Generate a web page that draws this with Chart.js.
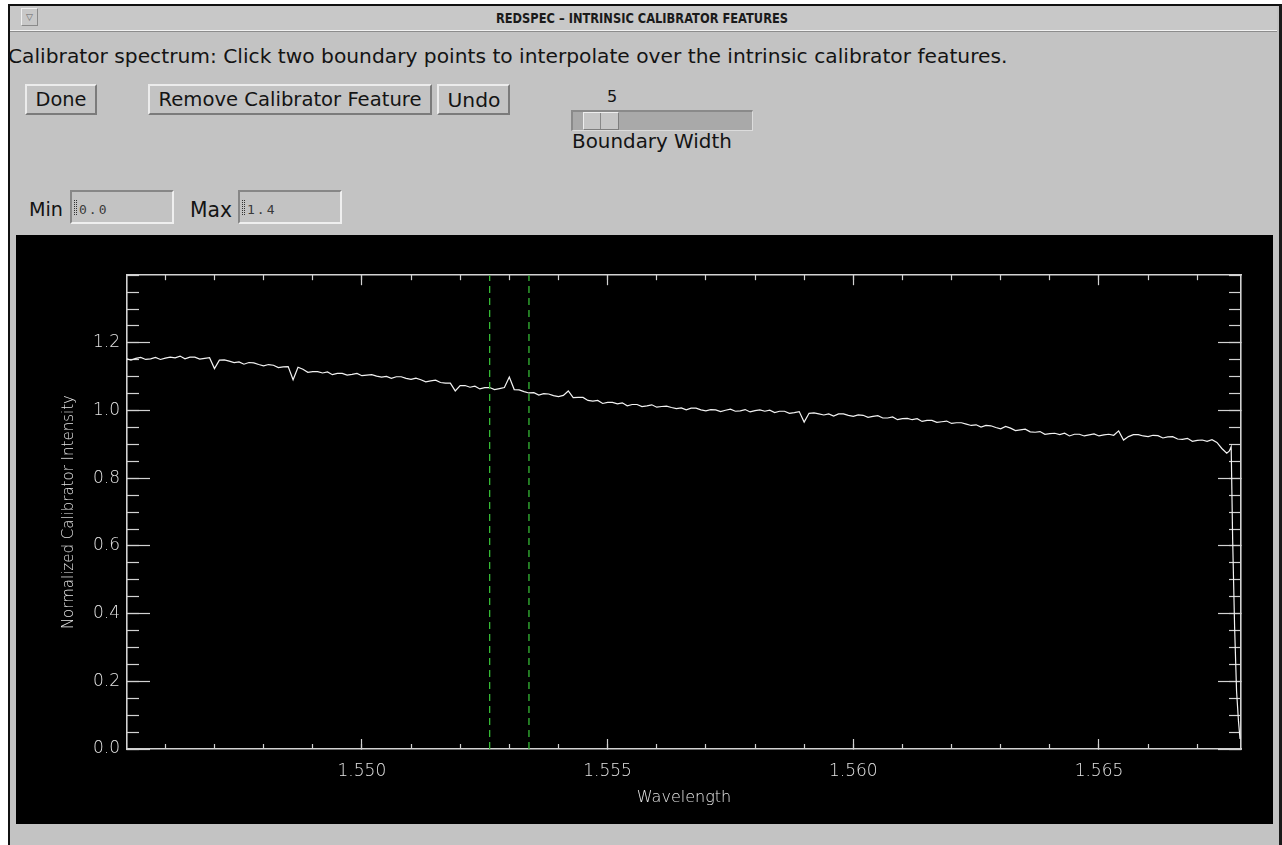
<!DOCTYPE html>
<html>
<head>
<meta charset="utf-8">
<title>REDSPEC - INTRINSIC CALIBRATOR FEATURES</title>
<script src="https://cdn.jsdelivr.net/npm/chart.js@4.4.1/dist/chart.umd.min.js"></script>
<style>
html,body{margin:0;padding:0;background:#fff;width:1282px;height:845px;overflow:hidden;}
.a{position:absolute;}
#frame{left:8px;top:4px;width:1274px;height:841px;background:#c3c3c3;border-left:2px solid #111;border-top:2px solid #111;border-right:3px solid #1a1a1a;box-sizing:border-box;}
#tbar{left:10px;top:6px;width:1267px;height:24px;background:#c8c8c8;border-bottom:1px solid #f2f2f2;box-shadow:0 1px 0 #8c8c8c;}
#icon{left:21px;top:8px;width:17px;height:18px;box-sizing:border-box;border-top:1px solid #efefef;border-left:1px solid #efefef;border-right:1px solid #8a8a8a;border-bottom:1px solid #8a8a8a;background:#c8c8c8;font:9px 'DejaVu Sans';color:#666;text-align:center;line-height:16px;}
.t{position:absolute;white-space:nowrap;line-height:1;font-family:'DejaVu Sans',sans-serif;color:#141414;}
.cv{transform:translateY(-50%);}
.cc{transform:translate(-50%,-50%);}
#title{font-family:'DejaVu Sans',sans-serif;font-weight:bold;font-size:14.5px;color:#1a1a1a;}
.btn{position:absolute;background:#c3c3c3;box-sizing:border-box;border-top:2px solid #ececec;border-left:2px solid #ececec;border-right:2px solid #7b7b7b;border-bottom:2px solid #7b7b7b;}
.field{position:absolute;background:#c3c3c3;box-sizing:border-box;border-top:2px solid #878787;border-left:2px solid #878787;border-right:2px solid #efefef;border-bottom:2px solid #efefef;}
.mono{font-family:'DejaVu Sans Mono',monospace;color:#3a3a3a;}
.caret{position:absolute;width:3px;height:15px;border-left:1px dotted #333;border-right:1px dotted #333;box-sizing:border-box;}
#trough{left:571px;top:110px;width:182px;height:21px;background:#a9a9a9;box-sizing:border-box;border-top:2px solid #8a8a8a;border-left:2px solid #8a8a8a;border-right:1px solid #dcdcdc;border-bottom:1px solid #dcdcdc;}
#thumb{left:583px;top:112px;width:36px;height:18px;background:#c6c6c6;box-sizing:border-box;border-top:1px solid #eee;border-left:1px solid #eee;border-right:1px solid #7e7e7e;border-bottom:1px solid #7e7e7e;}
#thumbline{left:600px;top:113px;width:1px;height:16px;background:#888;}
#panel{left:16px;top:235px;width:1257px;height:589px;background:#000;}
#c{display:block;}
</style>
</head>
<body>
<div id="frame" class="a"></div>
<div id="tbar" class="a"></div>
<div id="icon" class="a">&#9661;</div>
<div id="title" class="t" style="left:642px;top:18px;" data-sw="292">REDSPEC – INTRINSIC CALIBRATOR FEATURES</div>

<div class="t cv" style="left:8px;top:56px;font-size:17px;" data-w="1000">Calibrator spectrum: Click two boundary points to interpolate over the intrinsic calibrator features.</div>

<div class="btn" style="left:25px;top:84px;width:72px;height:31px;"></div>
<div class="t cc" style="left:61px;top:100px;font-size:17px;" data-w="51">Done</div>
<div class="btn" style="left:148px;top:84px;width:284px;height:31px;"></div>
<div class="t cc" style="left:290px;top:100px;font-size:17px;" data-w="263">Remove Calibrator Feature</div>
<div class="btn" style="left:437px;top:84px;width:73px;height:31px;"></div>
<div class="t cc" style="left:474px;top:100px;font-size:17px;" data-w="53">Undo</div>

<div class="t cc" style="left:612px;top:97px;font-size:16px;">5</div>
<div id="trough" class="a"></div>
<div id="thumb" class="a"></div>
<div id="thumbline" class="a"></div>
<div class="t cv" style="left:572px;top:142px;font-size:17px;" data-w="160">Boundary Width</div>

<div class="t cv" style="left:29px;top:210px;font-size:17px;" data-w="34">Min</div>
<div class="field" style="left:70px;top:190px;width:104px;height:34px;"></div>
<div class="caret" style="left:74px;top:200px;"></div>
<div class="t cv mono" style="left:79px;top:209px;font-size:13px;letter-spacing:2px;">0.0</div>
<div class="t cv" style="left:190px;top:210px;font-size:17px;" data-w="42">Max</div>
<div class="field" style="left:238px;top:190px;width:104px;height:34px;"></div>
<div class="caret" style="left:242px;top:200px;"></div>
<div class="t cv mono" style="left:247px;top:209px;font-size:13px;letter-spacing:2px;">1.4</div>

<div id="panel" class="a"><canvas id="c" width="1257" height="589"></canvas></div>

<script>
// ---------------- data ----------------
const wavelengths = [
1.5452,1.5453,1.5454,1.5455,1.5456,1.5457,1.5458,1.5459,1.5460,1.5461,
1.5462,1.5463,1.5464,1.5465,1.5466,1.5467,1.5468,1.5469,1.5470,1.5471,
1.5472,1.5473,1.5474,1.5475,1.5476,1.5477,1.5478,1.5479,1.5480,1.5481,
1.5482,1.5483,1.5484,1.5485,1.5486,1.5487,1.5488,1.5489,1.5490,1.5491,
1.5492,1.5493,1.5494,1.5495,1.5496,1.5497,1.5498,1.5499,1.5500,1.5501,
1.5502,1.5503,1.5504,1.5505,1.5506,1.5507,1.5508,1.5509,1.5510,1.5511,
1.5512,1.5513,1.5514,1.5515,1.5516,1.5517,1.5518,1.5519,1.5520,1.5521,
1.5522,1.5523,1.5524,1.5525,1.5526,1.5527,1.5528,1.5529,1.5530,1.5531,
1.5532,1.5533,1.5534,1.5535,1.5536,1.5537,1.5538,1.5539,1.5540,1.5541,
1.5542,1.5543,1.5544,1.5545,1.5546,1.5547,1.5548,1.5549,1.5550,1.5551,
1.5552,1.5553,1.5554,1.5555,1.5556,1.5557,1.5558,1.5559,1.5560,1.5561,
1.5562,1.5563,1.5564,1.5565,1.5566,1.5567,1.5568,1.5569,1.5570,1.5571,
1.5572,1.5573,1.5574,1.5575,1.5576,1.5577,1.5578,1.5579,1.5580,1.5581,
1.5582,1.5583,1.5584,1.5585,1.5586,1.5587,1.5588,1.5589,1.5590,1.5591,
1.5592,1.5593,1.5594,1.5595,1.5596,1.5597,1.5598,1.5599,1.5600,1.5601,
1.5602,1.5603,1.5604,1.5605,1.5606,1.5607,1.5608,1.5609,1.5610,1.5611,
1.5612,1.5613,1.5614,1.5615,1.5616,1.5617,1.5618,1.5619,1.5620,1.5621,
1.5622,1.5623,1.5624,1.5625,1.5626,1.5627,1.5628,1.5629,1.5630,1.5631,
1.5632,1.5633,1.5634,1.5635,1.5636,1.5637,1.5638,1.5639,1.5640,1.5641,
1.5642,1.5643,1.5644,1.5645,1.5646,1.5647,1.5648,1.5649,1.5650,1.5651,
1.5652,1.5653,1.5654,1.5655,1.5656,1.5657,1.5658,1.5659,1.5660,1.5661,
1.5662,1.5663,1.5664,1.5665,1.5666,1.5667,1.5668,1.5669,1.5670,1.5671,
1.5672,1.5673,1.5674,1.5675,1.5676,
1.56765,1.56769,1.56772,1.56776,1.56780,1.56784,1.56787
];
const intensity = [
1.154,1.149,1.154,1.157,1.151,1.153,1.157,1.151,1.155,1.158,
1.156,1.161,1.153,1.158,1.158,1.152,1.154,1.156,1.124,1.149,
1.150,1.146,1.142,1.144,1.137,1.142,1.141,1.136,1.132,1.136,
1.134,1.127,1.129,1.130,1.091,1.128,1.122,1.113,1.115,1.115,
1.111,1.114,1.106,1.110,1.110,1.105,1.107,1.110,1.103,1.105,
1.106,1.102,1.099,1.101,1.095,1.100,1.100,1.095,1.092,1.096,
1.091,1.085,1.088,1.090,1.083,1.081,1.081,1.058,1.074,1.074,
1.069,1.072,1.064,1.068,1.068,1.062,1.065,1.068,1.099,1.062,
1.061,1.056,1.052,1.053,1.046,1.050,1.049,1.044,1.041,1.045,
1.058,1.038,1.039,1.039,1.030,1.028,1.030,1.021,1.024,1.024,
1.020,1.023,1.014,1.018,1.018,1.012,1.014,1.017,1.010,1.012,
1.013,1.009,1.006,1.008,1.002,1.007,1.007,1.002,0.999,1.003,
1.002,0.997,1.001,1.004,0.998,0.999,1.003,0.996,1.000,1.002,
0.998,1.001,0.994,0.998,0.998,0.992,0.994,0.997,0.966,0.992,
0.993,0.990,0.987,0.990,0.984,0.990,0.990,0.986,0.983,0.987,
0.986,0.980,0.983,0.985,0.978,0.978,0.981,0.973,0.976,0.977,
0.973,0.976,0.968,0.971,0.971,0.965,0.967,0.969,0.962,0.964,
0.964,0.960,0.956,0.958,0.951,0.956,0.955,0.950,0.946,0.953,
0.948,0.941,0.943,0.945,0.937,0.936,0.938,0.930,0.932,0.933,
0.929,0.933,0.925,0.930,0.930,0.925,0.928,0.931,0.925,0.928,
0.930,0.927,0.940,0.913,0.923,0.929,0.929,0.925,0.923,0.927,
0.926,0.919,0.922,0.923,0.916,0.915,0.918,0.909,0.912,0.913,
0.909,0.914,0.906,0.888,0.874,
0.880,0.893,0.620,0.360,0.170,0.080,0.030
];
const boundaryWavelengths = [1.5526, 1.5534];
const xRange = [1.54522, 1.56789];
const yRange = [0.0, 1.4];
const xMajorTicks = [1.550, 1.555, 1.560, 1.565];
const xMinorStep = 0.001;
const yMajorTicks = [0.0, 0.2, 0.4, 0.6, 0.8, 1.0, 1.2];
const yMinorStep = 0.05;
const xTitle = 'Wavelength';
const yTitle = 'Normalized Calibrator Intensity';

// ---------------- text fitting ----------------
function fitTexts(){
  document.querySelectorAll('[data-w]').forEach(el => {
    const target = parseFloat(el.dataset.w);
    const w = el.getBoundingClientRect().width;
    const fs = parseFloat(getComputedStyle(el).fontSize);
    if (w > 0) el.style.fontSize = (fs * target / w).toFixed(2) + 'px';
  });
  document.querySelectorAll('[data-sw]').forEach(el => {
    const target = parseFloat(el.dataset.sw);
    const w = el.getBoundingClientRect().width;
    if (w > 0) el.style.transform = 'translate(-50%,-50%) scaleX(' + (target / w).toFixed(4) + ')';
  });
}
fitTexts();

// ---------------- chart ----------------
const axisColor = '#d2d2d2';
const labelColor = '#e4e4e4';
const fam = "'DejaVu Sans', sans-serif";
const tickFont = {family: fam, size: 17, weight: '200'};

const spectrum = wavelengths.map((w, i) => ({x: w, y: intensity[i]}));
const boundaryData = boundaryWavelengths.map(w => [{x: w, y: yRange[0]}, {x: w, y: yRange[1]}]);

function major(pos, ticksArr, len, size, extra) {
  const horiz = pos === 'top' || pos === 'bottom';
  return Object.assign({
    type: 'linear', position: pos, weight: 1,
    min: horiz ? xRange[0] : yRange[0], max: horiz ? xRange[1] : yRange[1],
    afterBuildTicks: s => { s.ticks = ticksArr.map(v => ({value: v})); },
    afterFit: s => { if (horiz) s.height = size; else s.width = size; },
    grid: {display: true, drawOnChartArea: false, drawTicks: true, tickLength: -len, color: axisColor, tickColor: axisColor, lineWidth: 1, tickWidth: 1.2},
    border: {display: true, color: axisColor, width: 1.6},
    ticks: {display: false, autoSkip: false, maxRotation: 0}
  }, extra || {});
}
function minor(pos, step, len) {
  const horiz = pos === 'top' || pos === 'bottom';
  return {
    type: 'linear', position: pos, weight: 0,
    min: horiz ? xRange[0] : yRange[0], max: horiz ? xRange[1] : yRange[1],
    afterFit: s => { if (horiz) s.height = 0; else s.width = 0; },
    grid: {display: true, drawOnChartArea: false, drawTicks: true, tickLength: -len, color: axisColor, tickColor: axisColor, lineWidth: 1, tickWidth: 1.2},
    border: {display: false},
    ticks: {display: false, stepSize: step, includeBounds: false, maxTicksLimit: 1000, autoSkip: false}
  };
}

const datasets = [
  {label: 'boundary1', data: boundaryData[0], borderColor: '#35b835', borderWidth: 1.3, borderDash: [7, 5], pointRadius: 0, xAxisID: 'x', yAxisID: 'y'},
  {label: 'boundary2', data: boundaryData[1], borderColor: '#35b835', borderWidth: 1.3, borderDash: [7, 5], pointRadius: 0, xAxisID: 'x', yAxisID: 'y'},
  {label: 'calibrator', data: spectrum, borderColor: '#f2f2f2', borderWidth: 1.2, pointRadius: 0, tension: 0, xAxisID: 'x', yAxisID: 'y'}
];

new Chart(document.getElementById('c'), {
  type: 'line',
  data: {datasets},
  options: {
    responsive: false,
    animation: false,
    devicePixelRatio: 1,
    events: [],
    layout: {padding: 0},
    plugins: {legend: {display: false}, tooltip: {enabled: false}},
    scales: {
      x: major('bottom', xMajorTicks, 10, 75, {
        ticks: {display: true, autoSkip: false, maxRotation: 0, color: labelColor, font: tickFont, padding: 22,
                callback: v => Number(v).toFixed(3)},
        title: {display: true, text: xTitle, color: labelColor, font: {family: fam, size: 16, weight: '200'}, padding: 17}
      }),
      xMinor: minor('bottom', xMinorStep, 5),
      xTop: major('top', xMajorTicks, 10, 35),
      xTopMinor: minor('top', xMinorStep, 5),
      y: major('left', yMajorTicks, 23, 111, {
        ticks: {display: true, autoSkip: false, color: labelColor, font: tickFont, padding: 30,
                callback: v => Number(v).toFixed(1)},
        title: {display: true, text: yTitle, color: labelColor, font: {family: fam, size: 15, weight: '200'}, padding: 44}
      }),
      yMinor: minor('left', yMinorStep, 12),
      yRight: major('right', yMajorTicks, 23, 32),
      yRightMinor: minor('right', yMinorStep, 12)
    }
  }
});
</script>
</body>
</html>
